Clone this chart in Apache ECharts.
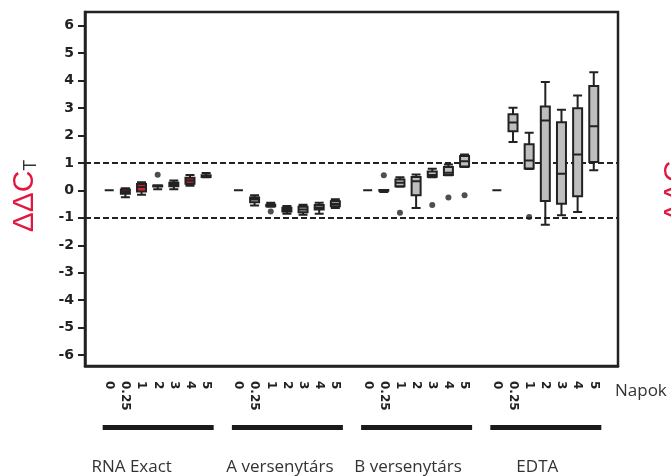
<!DOCTYPE html>
<html>
<head>
<meta charset="utf-8">
<script src="https://cdn.jsdelivr.net/npm/echarts@6/dist/echarts.min.js"></script>
<style>
  html, body { margin: 0; padding: 0; background: #fff; }
  #main { width: 671px; height: 476px; }
</style>
</head>
<body>
<div id="main"></div>
<script>
// days of sampling, repeated for every group
const days = ['0', '0.25', '1', '2', '3', '4', '5']
const groups = ['RNA Exact', 'A versenytárs', 'B versenytárs', 'EDTA']

// [min, Q1, median, Q3, max] per day
const rnaExact = [
  [0, 0, 0, 0, 0],
  [-0.25, -0.12, -0.05, 0.03, 0.08],
  [-0.16, -0.04, 0.12, 0.23, 0.3],
  [0.04, 0.14, 0.16, 0.18, 0.19],
  [0.04, 0.15, 0.22, 0.28, 0.36],
  [0.17, 0.24, 0.36, 0.46, 0.56],
  [0.48, 0.49, 0.52, 0.55, 0.63]
]
const competitorA = [
  [0, 0, 0, 0, 0],
  [-0.55, -0.43, -0.33, -0.26, -0.18],
  [-0.6, -0.58, -0.55, -0.52, -0.45],
  [-0.85, -0.77, -0.7, -0.63, -0.57],
  [-0.89, -0.8, -0.7, -0.6, -0.52],
  [-0.85, -0.7, -0.62, -0.53, -0.45],
  [-0.64, -0.58, -0.5, -0.4, -0.32]
]
const competitorB = [
  [0, 0, 0, 0, 0],
  [-0.06, -0.01, 0, 0.01, 0.01],
  [0.13, 0.15, 0.28, 0.4, 0.48],
  [-0.64, -0.18, 0.33, 0.49, 0.58],
  [0.48, 0.5, 0.56, 0.69, 0.79],
  [0.55, 0.56, 0.64, 0.85, 0.94],
  [0.85, 0.87, 1.06, 1.25, 1.31]
]
const edta = [
  [0, 0, 0, 0, 0],
  [1.76, 2.15, 2.47, 2.77, 3.01],
  [0.78, 0.8, 1.09, 1.68, 2.1],
  [-1.25, -0.39, 2.55, 3.06, 3.95],
  [-0.91, -0.49, 0.61, 2.48, 2.94],
  [-0.79, -0.21, 1.31, 2.99, 3.46],
  [0.73, 1.03, 2.34, 3.8, 4.3]
]

// outliers: [day index, value]
const rnaOutliers = [[3, 0.57]]
const aOutliers = [[2, -0.77]]
const bOutliers = [[1, 0.55], [2, -0.82], [4, -0.53], [5, -0.26], [6, -0.18]]
const edtaOutliers = [[2, -0.97]]

const refLines = [1, -1]
const yTicks = [-6, -5, -4, -3, -2, -1, 0, 1, 2, 3, 4, 5, 6]

const groupBoxes = [rnaExact, competitorA, competitorB, edta]
const groupOutliers = [rnaOutliers, aOutliers, bOutliers, edtaOutliers]
const groupFill = ['#d0202f', '#bebec1', '#bebec1', '#bebec1']

// one blank slot before, between and after the groups
const slot = (g, d) => 1 + g * (days.length + 1) + d
const categories = ['']
groups.forEach(() => {
  days.forEach(d => categories.push(d))
  categories.push('')
})

const boxData = []
const outlierData = []
groupBoxes.forEach((rows, gi) => {
  rows.forEach((r, di) => {
    boxData.push({
      value: [slot(gi, di)].concat(r),
      itemStyle: { color: groupFill[gi] }
    })
  })
  groupOutliers[gi].forEach(o => outlierData.push([slot(gi, o[0]), o[1]]))
})

const dark = '#222'
const chart = echarts.init(document.getElementById('main'), null, { renderer: 'canvas' })

chart.setOption({
  animation: false,
  grid: {
    left: 85, right: 53, top: 12, bottom: 110,
    show: true, borderColor: dark, borderWidth: 2.5
  },
  xAxis: {
    type: 'category',
    data: categories,
    boundaryGap: true,
    axisLine: { onZero: false, lineStyle: { color: dark, width: 2.5 } },
    axisTick: { show: false },
    axisLabel: {
      interval: 0,
      rotate: -90,
      margin: 15,
      color: dark,
      fontFamily: 'DejaVu Sans',
      fontWeight: 'bold',
      fontSize: 12
    },
    splitLine: { show: false }
  },
  yAxis: {
    type: 'value',
    min: -6.4,
    max: 6.5,
    axisLine: { show: true, lineStyle: { color: dark, width: 2.5 } },
    axisTick: { show: true, length: 7, lineStyle: { color: dark, width: 2 }, customValues: yTicks },
    axisLabel: {
      customValues: yTicks,
      margin: 11,
      color: dark,
      fontFamily: 'DejaVu Sans',
      fontWeight: 'bold',
      fontSize: 14
    },
    splitLine: { show: false }
  },
  series: [
    {
      type: 'boxplot',
      dimensions: ['x', 'min', 'Q1', 'median', 'Q3', 'max'],
      encode: { x: 'x', y: ['min', 'Q1', 'median', 'Q3', 'max'] },
      boxWidth: [9, 9],
      itemStyle: { borderColor: dark, borderWidth: 2 },
      data: boxData,
      z: 3,
      markLine: {
        silent: true,
        symbol: 'none',
        z: 1,
        label: { show: false },
        lineStyle: { type: [6, 3], color: dark, width: 2 },
        data: refLines.map(v => ({ yAxis: v }))
      }
    },
    {
      type: 'scatter',
      symbolSize: 6,
      itemStyle: { color: dark },
      data: outlierData,
      z: 4
    }
  ]
})

// group bars and names below the day labels
const graphics = []
const nameShift = [-26, -7, -8, -8]
groups.forEach((g, gi) => {
  const x0 = chart.convertToPixel({ xAxisIndex: 0 }, slot(gi, 0))
  const x1 = chart.convertToPixel({ xAxisIndex: 0 }, slot(gi, days.length - 1))
  const cx = (x0 + x1) / 2
  graphics.push({
    type: 'rect',
    shape: { x: cx - 55, y: 425, width: 111, height: 5 },
    style: { fill: '#1a1a1a' }
  })
  graphics.push({
    type: 'text',
    x: cx + nameShift[gi],
    y: 467,
    style: {
      text: g,
      fill: '#333',
      font: '17px "Open Sans"',
      textAlign: 'center',
      textVerticalAlign: 'middle'
    }
  })
})

const axisTitle = {
  text: '{a|ΔΔC}{b|T}',
  rich: {
    a: { fontSize: 30, fontFamily: 'Liberation Sans', fill: '#e2163f' },
    b: { fontSize: 18, fontFamily: 'Liberation Sans', fill: '#333', verticalAlign: 'bottom' }
  },
  textAlign: 'center',
  textVerticalAlign: 'middle'
}

graphics.push({
  type: 'text', x: 25, y: 196, rotation: Math.PI / 2,
  style: axisTitle
})
graphics.push({
  type: 'text', x: 676, y: 186, rotation: Math.PI / 2,
  style: axisTitle
})
graphics.push({
  type: 'text', x: 615, y: 391,
  style: { text: 'Napok', fill: '#333', font: '17px "Open Sans"', textVerticalAlign: 'middle' }
})

chart.setOption({ graphic: graphics })
</script>
</body>
</html>
